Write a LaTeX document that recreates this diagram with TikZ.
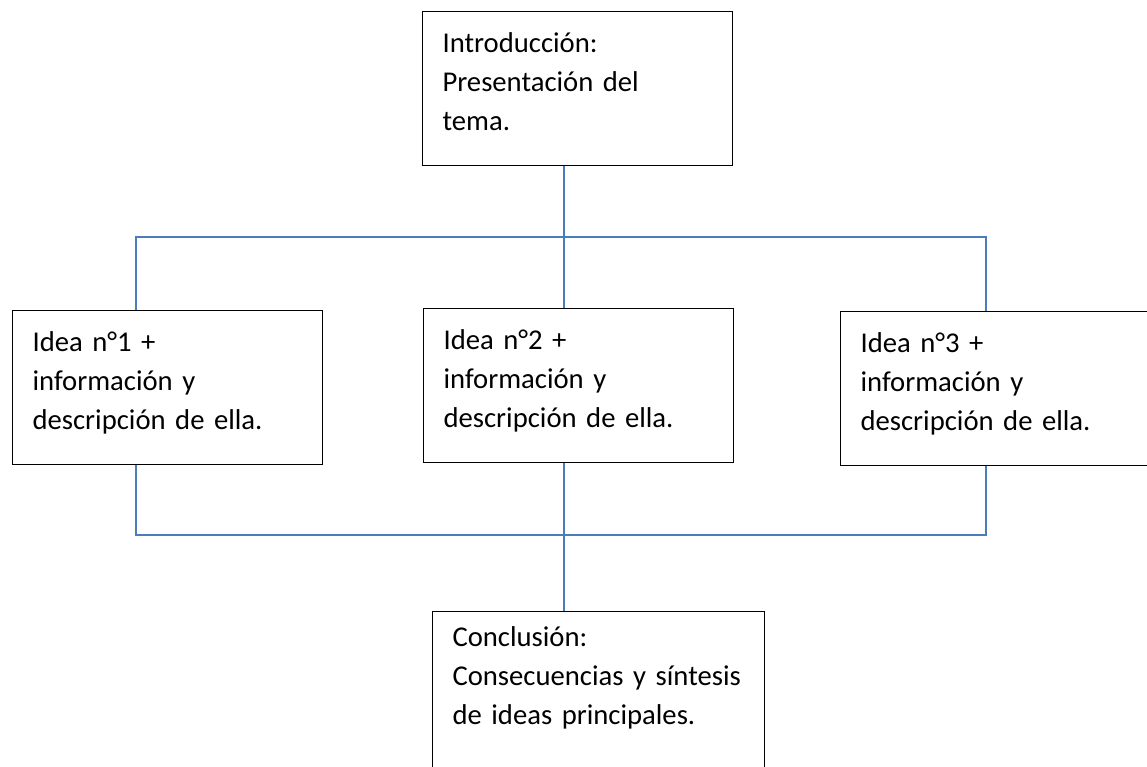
\documentclass[tikz,border=0pt]{standalone}
\usepackage{fontspec}
\setmainfont{Carlito}
\usepackage{tikz}
\definecolor{azul}{HTML}{4A7EBB}

\begin{document}
\begin{tikzpicture}[x=0.75pt,y=-0.75pt,
    caja/.style={draw,line width=0.8pt,anchor=north west,align=left,
      inner xsep=15pt,inner ysep=4pt,text width=202.5pt,minimum height=115.5pt,
      font=\fontsize{21.5}{29.25}\selectfont,
      execute at end node={\rule[-10pt]{0pt}{0pt}}},
    linea/.style={draw=azul,line width=1.1pt}]
  \useasboundingbox (0,0) rectangle (1147,767);
  \node[caja] (intro) at (422,11) {Introducción:\\Presentación del\\tema.};
  \node[caja] (ideauno) at (12,310) {Idea n°1 +\\información y\\descripción de ella.};
  \node[caja] (ideados) at (423,308) {Idea n°2 +\\información y\\descripción de ella.};
  \node[caja] (ideatres) at (840,311) {Idea n°3 +\\información y\\descripción de ella.};
  \node[caja,text width=219pt,minimum height=120pt] (concl) at (432,611)
    {Conclusión:\\Consecuencias y síntesis\\de ideas principales.\rule[-24pt]{0pt}{0pt}};
  % ejes de las lineas
  \coordinate (eje) at (564,0); \coordinate (izq) at (136,0); \coordinate (der) at (986,0);
  \coordinate (arriba) at (0,237); \coordinate (abajo) at (0,535);
  \draw[linea] (intro.south -| eje) -- (ideados.north -| eje);
  \draw[linea] (ideauno.north -| izq) -- (izq |- arriba) -- (der |- arriba) -- (ideatres.north -| der);
  \draw[linea] (ideauno.south -| izq) -- (izq |- abajo) -- (der |- abajo) -- (ideatres.south -| der);
  \draw[linea] (ideados.south -| eje) -- (concl.north -| eje);
\end{tikzpicture}
\end{document}
